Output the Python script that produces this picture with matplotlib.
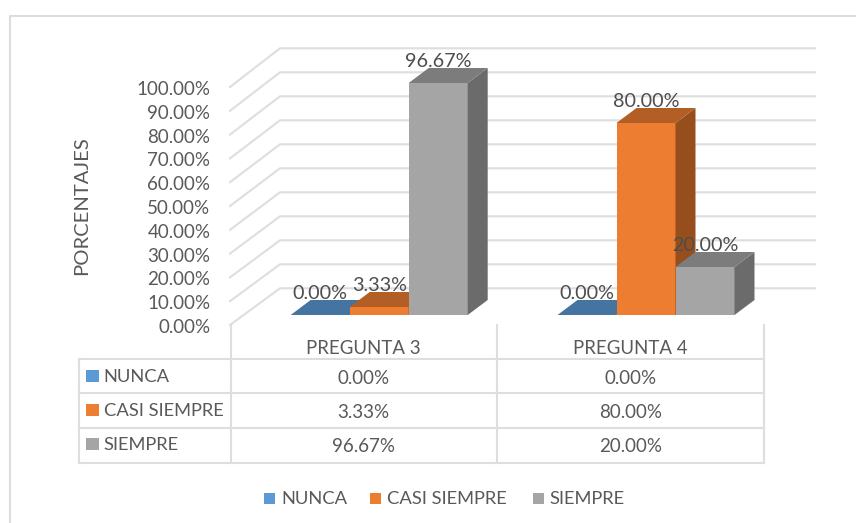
import matplotlib
matplotlib.use("Agg")
import matplotlib.pyplot as plt

plt.rcParams["font.family"] = ["Lato", "DejaVu Sans"]

categories = ["PREGUNTA 3", "PREGUNTA 4"]
series_names = ["NUNCA", "CASI SIEMPRE", "SIEMPRE"]
nunca = [0.0, 0.0]
casi_siempre = [3.33, 80.0]
siempre = [96.67, 20.0]
y_ticks = [0, 10, 20, 30, 40, 50, 60, 70, 80, 90, 100]

FRONT = ["#5B9BD5", "#ED7D31", "#A5A5A5"]
TOP = ["#44749F", "#B25E25", "#7C7C7C"]
SIDE = ["#3A6389", "#964F1C", "#6B6B6B"]
TXT = "#595959"
GRID = "#DEDEDE"

W, H = 856, 523
PX_CAT = 266.8   # px between the two groups
PX_VAL = 2.4     # px per percentage point


# pixel position -> data position, the one axes fills the whole figure
def dx(px):
    return (px - 379.2) / PX_CAT


def dy(py):
    return (315 - py) / PX_VAL


fig = plt.figure(figsize=(W / 100, H / 100), dpi=100)
ax = fig.add_axes([0, 0, 1, 1])
ax.set_xlim(dx(0), dx(W))
ax.set_ylim(dy(H), dy(0))
ax.axis("off")

# outer frame, open on the right
ax.plot([dx(10), dx(10), dx(W)], [dy(H), dy(16), dy(16)], color="#DDDDDD", lw=1.5)

# back wall gridlines
for v in y_ticks:
    ax.plot([dx(230), dx(280), dx(815)],
            [dy(325) + v * 238 / 240, dy(288.3) + v, dy(288.3) + v],
            color=GRID, lw=1.5, zorder=1)
    ax.text(dx(210.5), dy(327.5) + v * 238 / 240, f"{v:.2f}%", ha="right", va="center",
            fontsize=13.5, color=TXT)

ax.text(dx(82), dy(206), "PORCENTAJES", rotation=90, ha="center", va="center",
        fontsize=14.6, color=TXT)

# bars
bar_w = 59 / PX_CAT
depth_x = 20 / PX_CAT
depth_y = 15 / PX_VAL
data = [nunca, casi_siempre, siempre]
labels = []
for c in range(len(categories)):
    for s in range(len(series_names)):
        v = data[s][c]
        x0 = c + (s - 1.5) * bar_w
        x1 = x0 + bar_w
        if v > 0:
            ax.fill([x0, x1, x1, x0], [0, 0, v, v], color=FRONT[s], lw=0, zorder=3)
            ax.fill([x1, x1 + depth_x, x1 + depth_x, x1],
                    [0, depth_y, v + depth_y, v], color=SIDE[s], lw=0, zorder=3)
        ax.fill([x0, x1, x1 + depth_x, x0 + depth_x],
                [v, v, v + depth_y, v + depth_y], color=TOP[s], lw=0, zorder=3)
        labels.append(((x0 + x1) / 2, v + 8.8, f"{v:.2f}%"))
for x, y, t in labels:
    ax.text(x, y, t, ha="center", va="center", fontsize=14.2, color="#4D4D4D", zorder=5)

# data table
for px in [230.7, 496.7, 764]:
    ax.plot([dx(px), dx(px)], [dy(325), dy(462.7)], color=GRID, lw=1.5, zorder=2)
ax.plot([dx(79), dx(79)], [dy(359.3), dy(462.7)], color=GRID, lw=1.5, zorder=2)
for py in [359.3, 393.3, 428, 462.7]:
    ax.plot([dx(79), dx(764)], [dy(py), dy(py)], color=GRID, lw=1.5, zorder=2)

col_px = [363.7, 630.3]
row_py = [377, 411, 445]
for c, name in enumerate(categories):
    ax.text(dx(col_px[c]), dy(348), name, ha="center", va="center", fontsize=13.4, color=TXT)
    for s in range(len(series_names)):
        ax.text(dx(col_px[c]), dy(row_py[s] + 1.5), f"{data[s][c]:.2f}%", ha="center", va="center",
                fontsize=13.5, color=TXT)


def key(px, py, size, color):
    ax.fill([dx(px), dx(px + size), dx(px + size), dx(px)],
            [dy(py + size / 2), dy(py + size / 2), dy(py - size / 2), dy(py - size / 2)],
            color=color, lw=0)


for s, name in enumerate(series_names):
    key(86, row_py[s] - 1, 12.5, FRONT[s])
    ax.text(dx(103.5), dy(row_py[s]), name, ha="left", va="center", fontsize=13.2, color=TXT)

# legend
leg_key = [264, 369.5, 532.5]
leg_txt = [281.7, 387, 549]
for s, name in enumerate(series_names):
    key(leg_key[s], 498, 11, FRONT[s])
    ax.text(dx(leg_txt[s]), dy(499), name, ha="left", va="center", fontsize=13.2, color=TXT)

fig.savefig("out.png", dpi=100)
